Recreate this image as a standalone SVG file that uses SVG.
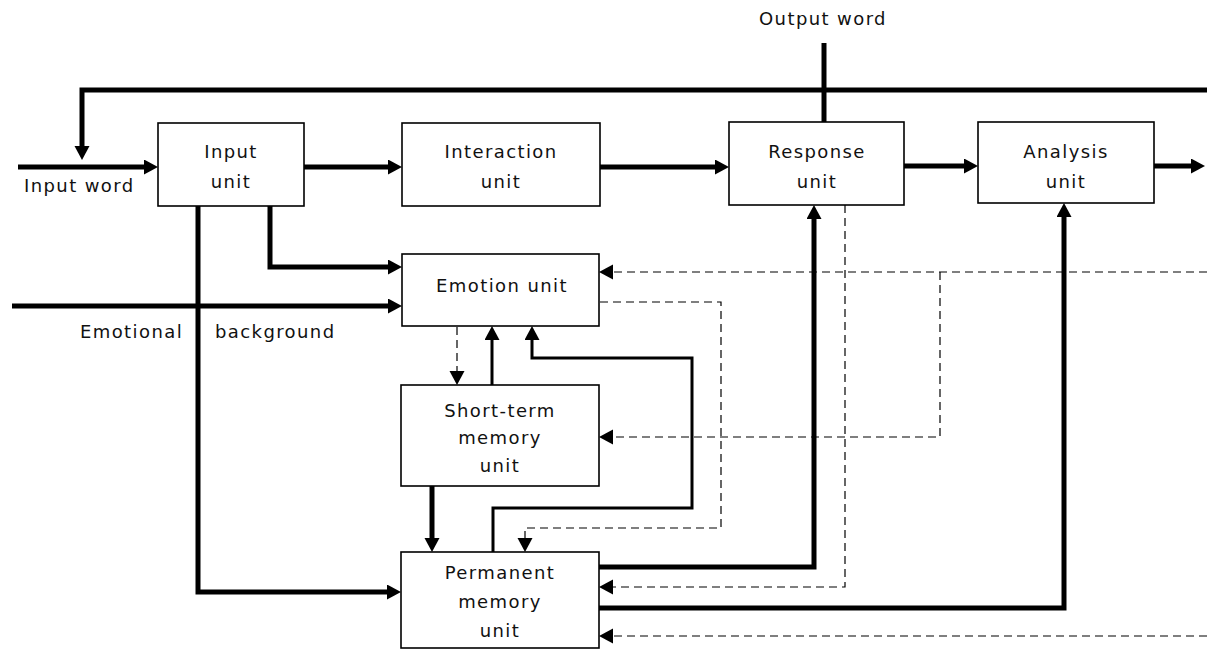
<svg xmlns="http://www.w3.org/2000/svg" width="1207" height="650" viewBox="0 0 1207 650">
<style>
.box{fill:#fff;stroke:#000;stroke-width:1.6}
text{font-family:"DejaVu Sans","Liberation Sans",sans-serif;font-size:18px;letter-spacing:1.4px;fill:#111}
.c{text-anchor:middle}
.thick{fill:none;stroke:#000;stroke-width:5}
.med{fill:none;stroke:#000;stroke-width:3}
.dash{fill:none;stroke:#000;stroke-width:1.2;stroke-dasharray:8 5}
</style>
<defs>
<marker id="ah" markerUnits="userSpaceOnUse" markerWidth="16" markerHeight="16" refX="6" refY="7.5" orient="auto">
<path d="M0,0 L14,7.5 L0,15 z" fill="#000"/>
</marker>
</defs>
<rect width="1207" height="650" fill="#fff"/>
<g id="connectors">
<path class="thick" d="M18,167 H150" marker-end="url(#ah)"/>
<path class="thick" d="M1207,90 H82 V152" marker-end="url(#ah)"/>
<path class="thick" d="M304,167 H394" marker-end="url(#ah)"/>
<path class="thick" d="M600,167 H721" marker-end="url(#ah)"/>
<path class="thick" d="M904,166 H970" marker-end="url(#ah)"/>
<path class="thick" d="M1154,166 H1197" marker-end="url(#ah)"/>
<path class="thick" d="M824,43 V122"/>
<path class="thick" d="M198,206 V592 H393" marker-end="url(#ah)"/>
<path class="thick" d="M270,206 V267 H394" marker-end="url(#ah)"/>
<path class="thick" d="M12,306 H394" marker-end="url(#ah)"/>
<path class="med" d="M492,385 V334" marker-end="url(#ah)"/>
<path class="med" d="M493,552 V508 H692 V358 H532 V334" marker-end="url(#ah)"/>
<path class="thick" d="M432,486 V544" marker-end="url(#ah)"/>
<path class="thick" d="M599,567 H814 V213" marker-end="url(#ah)"/>
<path class="thick" d="M599,608 H1064 V211" marker-end="url(#ah)"/>
<path class="dash" d="M457,327 V377" marker-end="url(#ah)"/>
<path class="dash" d="M1207,272 H607" marker-end="url(#ah)"/>
<path class="dash" d="M940,272 V437 H607" marker-end="url(#ah)"/>
<path class="dash" d="M600,302 H721 V528 H525 V544" marker-end="url(#ah)"/>
<path class="dash" d="M845,205 V587 H607" marker-end="url(#ah)"/>
<path class="dash" d="M1207,636 H607" marker-end="url(#ah)"/>
</g>
<g id="input-unit"><rect class="box" x="158" y="123" width="146" height="83"/><text class="c" x="231" y="158">Input</text><text class="c" x="231" y="188">unit</text></g>
<g id="interaction-unit"><rect class="box" x="402" y="123" width="198" height="83"/><text class="c" x="501" y="158">Interaction</text><text class="c" x="501" y="188">unit</text></g>
<g id="response-unit"><rect class="box" x="729" y="122" width="175" height="83"/><text class="c" x="817" y="158">Response</text><text class="c" x="817" y="188">unit</text></g>
<g id="analysis-unit"><rect class="box" x="978" y="122" width="176" height="81"/><text class="c" x="1066" y="158">Analysis</text><text class="c" x="1066" y="188">unit</text></g>
<g id="emotion-unit"><rect class="box" x="402" y="254" width="197" height="72"/><text class="c" x="502" y="292">Emotion unit</text></g>
<g id="short-term-memory-unit"><rect class="box" x="401" y="385" width="198" height="101"/><text class="c" x="500" y="417">Short-term</text><text class="c" x="500" y="444">memory</text><text class="c" x="500" y="472">unit</text></g>
<g id="permanent-memory-unit"><rect class="box" x="401" y="552" width="198" height="96"/><text class="c" x="500" y="579">Permanent</text><text class="c" x="500" y="608">memory</text><text class="c" x="500" y="637">unit</text></g>
<g id="labels">
<text class="c" x="823" y="25">Output word</text>
<text x="24" y="192">Input word</text>
<text x="80" y="338">Emotional</text>
<text x="215" y="338">background</text>
</g>
</svg>
